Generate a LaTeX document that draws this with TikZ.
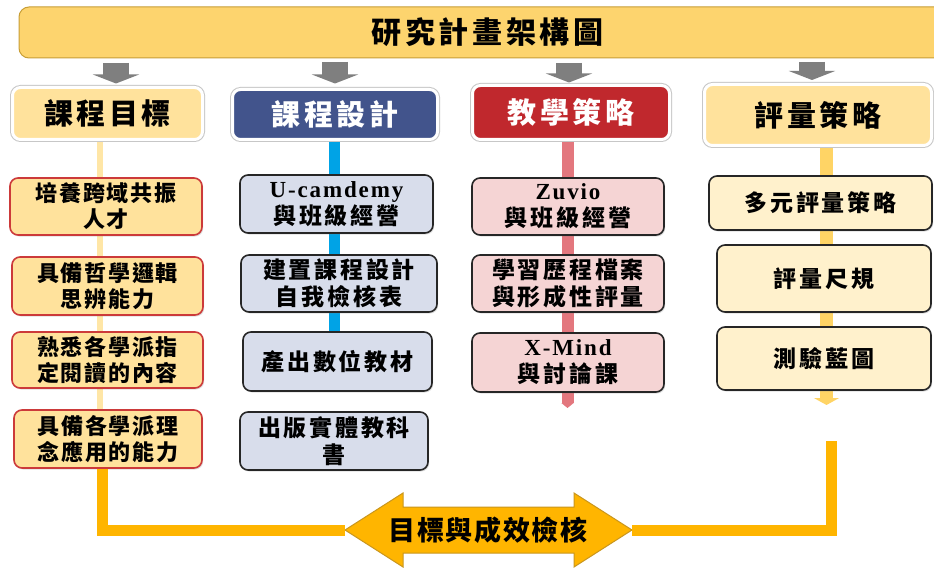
\documentclass[tikz,border=0pt]{standalone}
\usepackage{fontspec}
\setmainfont{Noto Sans CJK TC}
\newfontfamily\latinserif{Liberation Serif}
\usetikzlibrary{arrows.meta,shadows,backgrounds,calc}
\definecolor{bannerfill}{HTML}{FDD46E}
\definecolor{bannerline}{HTML}{C89E36}
\definecolor{hdryellow}{HTML}{FFE29C}
\definecolor{hdrblue}{HTML}{42548C}
\definecolor{hdrred}{HTML}{C0282D}
\definecolor{boxred}{HTML}{CC3A3A}
\definecolor{boxdark}{HTML}{262626}
\definecolor{fillblue}{HTML}{D8DDEB}
\definecolor{fillrose}{HTML}{F5D4D4}
\definecolor{fillcream}{HTML}{FFF1CC}
\definecolor{spinepale}{HTML}{FFE6A6}
\definecolor{spineblue}{HTML}{00A3E6}
\definecolor{spinerose}{HTML}{E3777E}
\definecolor{spineyellow}{HTML}{FFD465}
\definecolor{loopor}{HTML}{FFB500}
\definecolor{checkline}{HTML}{C9961E}
\definecolor{arrowgray}{HTML}{7F7F7F}
\newcommand\titlefont{\fontsize{30}{32}\selectfont\bfseries\addfontfeatures{LetterSpace=12}}
\newcommand\hdrfont{\fontsize{29}{30}\selectfont\bfseries\addfontfeatures{LetterSpace=12}}
\newcommand\goalfont{\fontsize{22}{26}\selectfont\bfseries\addfontfeatures{LetterSpace=8}}
\newcommand\boxfont{\fontsize{23}{27}\selectfont\bfseries\addfontfeatures{LetterSpace=12}}
\newcommand\checkfont{\fontsize{27}{28}\selectfont\bfseries\addfontfeatures{LetterSpace=6}}
\newcommand\lat[1]{{\latinserif\bfseries\fontsize{23}{27}\selectfont\addfontfeatures{LetterSpace=8}#1}}
\tikzset{
  hdr/.style={rounded corners=8pt, inner sep=0pt, align=center, font=\hdrfont,
    preaction={draw=black!22, line width=5pt}, draw=white, line width=3pt},
  basebox/.style={rounded corners=8pt, inner sep=0pt, align=center, line width=1.6pt,
    drop shadow={opacity=0.25, shadow xshift=1.2pt, shadow yshift=-1.5pt}},
  goalbox/.style={basebox, draw=boxred, fill=hdryellow, font=\goalfont},
  designbox/.style={basebox, draw=boxdark, fill=fillblue, font=\boxfont},
  teachbox/.style={basebox, draw=boxdark, fill=fillrose, font=\boxfont},
  evalbox/.style={basebox, draw=boxdark, fill=fillcream, font=\boxfont},
  grayarr/.style={line width=26pt, draw=arrowgray, -{Triangle[width=46pt,length=9pt,fill=arrowgray]}},
  spine/.style={line width=#1},
  loopline/.style={draw=loopor, line width=11pt},
}
\begin{document}
\begin{tikzpicture}[x=1pt,y=-1pt]
\useasboundingbox (0,0) rectangle (934,572);
\begin{pgfonlayer}{background}
  \fill[white] (0,0) rectangle (934,572);
\end{pgfonlayer}
\clip (0,0) rectangle (934,572);

% banner
\node[rounded corners=10pt, draw=bannerline, line width=1pt, fill=bannerfill,
      minimum width=937pt, minimum height=51pt, inner sep=0pt, font=\titlefont]
  (title) at (487.5,32.5) {研究計畫架構圖};

% headers
\node[hdr, fill=hdryellow, minimum width=190pt, minimum height=52pt] (h1) at (107.5,113.5) {課程目標};
\node[hdr, fill=hdrblue, text=white, minimum width=205pt, minimum height=50pt] (h2) at (335,114.5) {課程設計};
\node[hdr, fill=hdrred, text=white, minimum width=197pt, minimum height=54pt] (h3) at (571,112.5) {教學策略};
\node[hdr, fill=hdryellow, minimum width=227pt, minimum height=61pt] (h4) at (818,115) {評量策略};

% column 1
\node[goalbox, minimum width=192pt, minimum height=57pt] (a1) at (106,206.5) {培養跨域共振\\人才};
\node[goalbox, minimum width=191pt, minimum height=58pt] (a2) at (107.5,286) {具備哲學邏輯\\思辨能力};
\node[goalbox, minimum width=191pt, minimum height=56pt] (a3) at (107.5,360) {熟悉各學派指\\定閱讀的內容};
\node[goalbox, minimum width=188pt, minimum height=58pt] (a4) at (108,439) {具備各學派理\\念應用的能力};

% column 2
\node[designbox, minimum width=193pt, minimum height=58pt] (b1) at (336.5,204) {\lat{U-camdemy}\\與班級經營};
\node[designbox, minimum width=196pt, minimum height=57pt] (b2) at (339,283.5) {建置課程設計\\自我檢核表};
\node[designbox, minimum width=189pt, minimum height=59pt] (b3) at (337.5,361.5) {產出數位教材};
\node[designbox, minimum width=188pt, minimum height=58pt] (b4) at (334,441) {出版實體教科\\書};

% column 3
\node[teachbox, minimum width=192pt, minimum height=57pt] (c1) at (568,206.5) {\lat{Zuvio}\\與班級經營};
\node[teachbox, minimum width=192pt, minimum height=57pt] (c2) at (568,283.5) {學習歷程檔案\\與形成性評量};
\node[teachbox, minimum width=192pt, minimum height=59pt] (c3) at (568,362.5) {\lat{X-Mind}\\與討論課};

% column 4
\node[evalbox, minimum width=223pt, minimum height=54pt] (d1) at (820.5,203) {多元評量策略};
\node[evalbox, minimum width=214pt, minimum height=67pt] (d2) at (824,278.5) {評量尺規};
\node[evalbox, minimum width=214pt, minimum height=63pt] (d3) at (824,358.5) {測驗藍圖};

% bottom double arrow
\coordinate (checkL) at (345,530);
\coordinate (checkR) at (632,530);
\fill[loopor, draw=checkline, line width=1pt, line join=miter]
  (checkL) -- (403,493) -- (403,507) -- (574,507) -- (574,493) -- (checkR)
  -- (574,567) -- (574,553) -- (403,553) -- (403,567) -- cycle;
\node[font=\checkfont, inner sep=0pt] (check) at (488,530) {目標與成效檢核};

% spines
\coordinate (s1) at (100,0);
\coordinate (o1) at (102.5,0);
\coordinate (s2) at (334,0);
\coordinate (s3) at (567.5,0);
\coordinate (s4) at (826.5,0);
\coordinate (e3) at (567.5,408);
\coordinate (e4) at (826.5,405);
\coordinate (o4) at (831,441);
\begin{pgfonlayer}{background}
  \draw[spine=6pt, spinepale] (h1.south -| s1) -- (a4.north -| s1);
  \draw[spine=11pt, spineblue] (h2.south -| s2) -- (b3.north -| s2);
  \draw[spine=12pt, spinerose, -{Triangle[width=12pt,length=5pt]}] (h3.south -| s3) -- (e3);
  \draw[spine=13pt, spineyellow, -{Triangle[width=25pt,length=7pt]}] (h4.south -| s4) -- (e4);
\end{pgfonlayer}
\draw[loopline] (a4.south -| o1) |- (checkL);
\draw[loopline] (o4) |- (checkR);

% gray arrows
\draw[grayarr, shorten <=4.5pt, shorten >=2.5pt] ($(title.south -| h1.north)+(8.5,0)$) -- ($(h1.north)+(8.5,0)$);
\draw[grayarr, shorten <=3.5pt, shorten >=4.5pt] (title.south -| h2.north) -- (h2.north);
\draw[grayarr, shorten <=4.5pt, shorten >=1.5pt] ($(title.south -| h3.north)+(-2,0)$) -- ($(h3.north)+(-2,0)$);
\draw[grayarr, shorten <=3.5pt, shorten >=3pt] ($(title.south -| h4.north)+(-6,0)$) -- ($(h4.north)+(-6,0)$);
\end{tikzpicture}
\end{document}
